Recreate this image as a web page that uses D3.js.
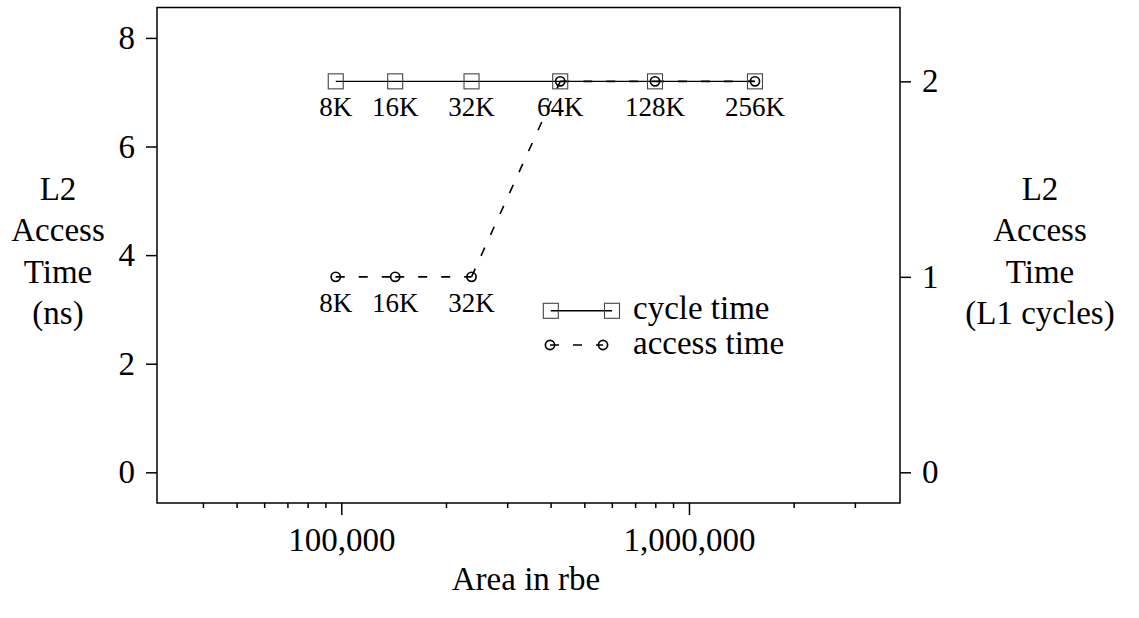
<!DOCTYPE html>
<html>
<head>
<meta charset="utf-8">
<script src="https://cdn.jsdelivr.net/npm/d3@7"></script>
<style>
  body { margin: 0; background: #fff; }
  svg { display: block; }
  text { font-family: "Liberation Serif", "Times New Roman", serif; fill: #000; }
</style>
</head>
<body>
<svg id="chart" width="1139" height="618"></svg>
<script>
// ---- data ----
const cacheSizes = ["8K", "16K", "32K", "64K", "128K", "256K"];
const areaRbe = [96400, 142900, 236900, 426200, 798500, 1548000];
const cycleTimeNs = [7.2, 7.2, 7.2, 7.2, 7.2, 7.2];
const accessTimeNs = [3.6, 3.6, 3.6, 7.2, 7.2, 7.2];
const lowerLabelCount = 3; // access-time points labelled separately (8K,16K,32K)
const leftTicks = [0, 2, 4, 6, 8];
const rightTicks = [0, 1, 2];
const xMajorTicks = [1e5, 1e6];
const xMinorTicks = [4e4, 5e4, 6e4, 7e4, 8e4, 9e4, 2e5, 3e5, 4e5, 5e5, 6e5, 7e5, 8e5, 9e5, 2e6, 3e6];
const nsPerL1Cycle = 3.6;
const leftTitle = ["L2", "Access", "Time", "(ns)"];
const rightTitle = ["L2", "Access", "Time", "(L1 cycles)"];
const xTitle = "Area in rbe";
const legendLabels = ["cycle time", "access time"];

// ---- layout ----
const L = 157, R = 900, T = 7.5, B = 503;
const svg = d3.select("#chart");

const x = d3.scaleLog().domain([29510, 4045000]).range([L, R]);
const yDom = [-0.565, 8.56];
const yL = d3.scaleLinear().domain(yDom).range([B, T]);
const yR = d3.scaleLinear().domain(yDom.map(v => v / nsPerL1Cycle)).range([B, T]);

const bigFont = 33, ptFont = 27;
const dash = "9,14";

// frame
svg.append("rect").attr("x", L).attr("y", T).attr("width", R - L).attr("height", B - T)
  .attr("fill", "none").attr("stroke", "#000").attr("stroke-width", 1.5);

function styleAxis(g) {
  g.select(".domain").remove();
  g.selectAll(".tick line").attr("stroke", "#000").attr("stroke-width", 1.5);
  g.selectAll(".tick text").style("font-size", bigFont + "px")
    .style("font-family", '"Liberation Serif", serif').attr("fill", "#000");
}

svg.append("g").attr("transform", `translate(${L},0)`)
  .call(d3.axisLeft(yL).tickValues(leftTicks).tickSize(11).tickPadding(11).tickFormat(d3.format("d")))
  .call(styleAxis);

svg.append("g").attr("transform", `translate(${R},0)`)
  .call(d3.axisRight(yR).tickValues(rightTicks).tickSize(11).tickPadding(11).tickFormat(d3.format("d")))
  .call(styleAxis);

svg.append("g").attr("transform", `translate(0,${B})`)
  .call(d3.axisBottom(x).tickValues(xMajorTicks).tickSize(12).tickPadding(13).tickFormat(d3.format(",")))
  .call(styleAxis);

svg.append("g").attr("transform", `translate(0,${B})`)
  .call(d3.axisBottom(x).tickValues(xMinorTicks).tickSize(5).tickFormat(""))
  .call(styleAxis);

// axis titles
function stackTitle(lines, cx) {
  const t = svg.append("text").attr("text-anchor", "middle").style("font-size", bigFont + "px");
  lines.forEach((s, i) => t.append("tspan").attr("x", cx).attr("y", 200 + i * 41.4).text(s));
}
stackTitle(leftTitle, 58);
stackTitle(rightTitle, 1040);

svg.append("text").attr("x", 526).attr("y", 590).attr("text-anchor", "middle")
  .style("font-size", bigFont + "px").text(xTitle);

// data
const cyc = areaRbe.map((a, i) => ({ a, v: cycleTimeNs[i], s: cacheSizes[i] }));
const acc = areaRbe.map((a, i) => ({ a, v: accessTimeNs[i], s: cacheSizes[i] }));

// cycle time solid line
svg.append("path").datum(cyc)
  .attr("d", d3.line().x(d => x(d.a)).y(d => yL(d.v)))
  .attr("fill", "none").attr("stroke", "#000").attr("stroke-width", 1.4);

// access time dashed, per segment
svg.append("g").selectAll("line").data(d3.pairs(acc)).join("line")
  .attr("x1", d => x(d[0].a)).attr("y1", d => yL(d[0].v))
  .attr("x2", d => x(d[1].a)).attr("y2", d => yL(d[1].v))
  .attr("stroke", "#000").attr("stroke-width", 1.6).attr("stroke-dasharray", dash);

// squares
const sq = 15;
svg.append("g").selectAll("rect").data(cyc).join("rect")
  .attr("x", d => x(d.a) - sq / 2).attr("y", d => yL(d.v) - sq / 2)
  .attr("width", sq).attr("height", sq)
  .attr("fill", "none").attr("stroke", "#444").attr("stroke-width", 1.1);

// circles
svg.append("g").selectAll("circle").data(acc).join("circle")
  .attr("cx", d => x(d.a)).attr("cy", d => yL(d.v)).attr("r", 4.6)
  .attr("fill", "none").attr("stroke", "#000").attr("stroke-width", 1.7);

// point labels
svg.append("g").selectAll("text").data(cyc).join("text")
  .attr("x", d => x(d.a)).attr("y", d => yL(d.v) + 35).attr("text-anchor", "middle")
  .style("font-size", ptFont + "px").text(d => d.s);
svg.append("g").selectAll("text").data(acc.slice(0, lowerLabelCount)).join("text")
  .attr("x", d => x(d.a)).attr("y", d => yL(d.v) + 35.5).attr("text-anchor", "middle")
  .style("font-size", ptFont + "px").text(d => d.s);

// legend
const lg = svg.append("g");
lg.append("line").attr("x1", 550.8).attr("x2", 612).attr("y1", 310.8).attr("y2", 310.8)
  .attr("stroke", "#000").attr("stroke-width", 1.4);
[550.8, 612].forEach(cx => lg.append("rect").attr("x", cx - sq / 2).attr("y", 310.8 - sq / 2)
  .attr("width", sq).attr("height", sq).attr("fill", "none").attr("stroke", "#444").attr("stroke-width", 1.1));
lg.append("text").attr("x", 633).attr("y", 319).style("font-size", bigFont + "px").text(legendLabels[0]);
lg.append("line").attr("x1", 550).attr("x2", 603).attr("y1", 345).attr("y2", 345)
  .attr("stroke", "#000").attr("stroke-width", 1.6).attr("stroke-dasharray", dash);
[550, 603].forEach(cx => lg.append("circle").attr("cx", cx).attr("cy", 345).attr("r", 4.6)
  .attr("fill", "none").attr("stroke", "#000").attr("stroke-width", 1.7));
lg.append("text").attr("x", 633).attr("y", 354).style("font-size", bigFont + "px").text(legendLabels[1]);
</script>
</body>
</html>
